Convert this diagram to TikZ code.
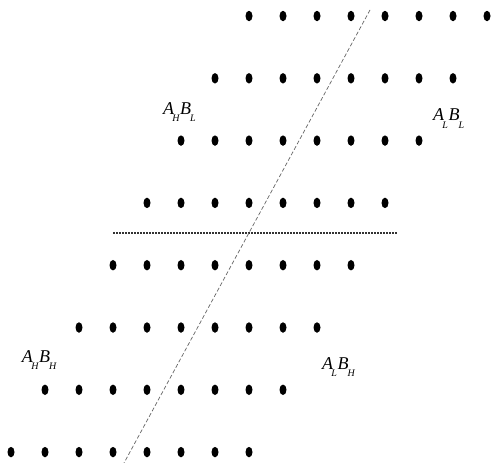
\documentclass[tikz,border=0pt]{standalone}
\usepackage{fontspec}
\setmainfont{Liberation Serif}
\usetikzlibrary{shapes.geometric}
\newcommand{\lbl}[4]{\fontsize{18}{18}\selectfont\itshape #1\kern-1.5pt\raisebox{-7pt}{\fontsize{10}{10}\selectfont #2}\kern0.5pt#3\kern-1pt\raisebox{-7pt}{\fontsize{10}{10}\selectfont #4}}
\tikzset{
  dotnode/.style={ellipse, fill=black, draw=none, inner sep=0pt, minimum width=7pt, minimum height=10.5pt},
  hline/.style={draw=black!80, line width=1.1pt, dash pattern=on 2pt off 1pt},
  sline/.style={draw=black!60, line width=0.7pt, dash pattern=on 4pt off 2.2pt},
  lab/.style={anchor=base west, inner sep=0pt, outer sep=0pt}
}
\begin{document}
\begin{tikzpicture}[x=1pt,y=-1pt]
\useasboundingbox[fill=white] (0,0) rectangle (491,463);
\foreach \r in {1,...,8}{
  \foreach \c in {1,...,8}{
    \node[dotnode] (d\r-\c) at ({249-(\r-1)*34+(\c-1)*34},{16+(\r-1)*62.3}) {};
  }
}
\coordinate (h1) at (113,233);
\coordinate (h2) at (397,233);
\coordinate (s1) at (370,10);
\coordinate (s2) at (124,463);
\draw[hline] (h1) -- (h2);
\draw[sline] (s1) -- (s2);
\node[lab] (ahbl) at (163,114) {\lbl{A}{H}{B}{L}};
\node[lab] (albl) at (433,121) {\lbl{A}{L}{B}{L}};
\node[lab] (ahbh) at (22,362) {\lbl{A}{H}{B}{H}};
\node[lab] (albh) at (322,369) {\lbl{A}{L}{B}{H}};
\end{tikzpicture}
\end{document}
